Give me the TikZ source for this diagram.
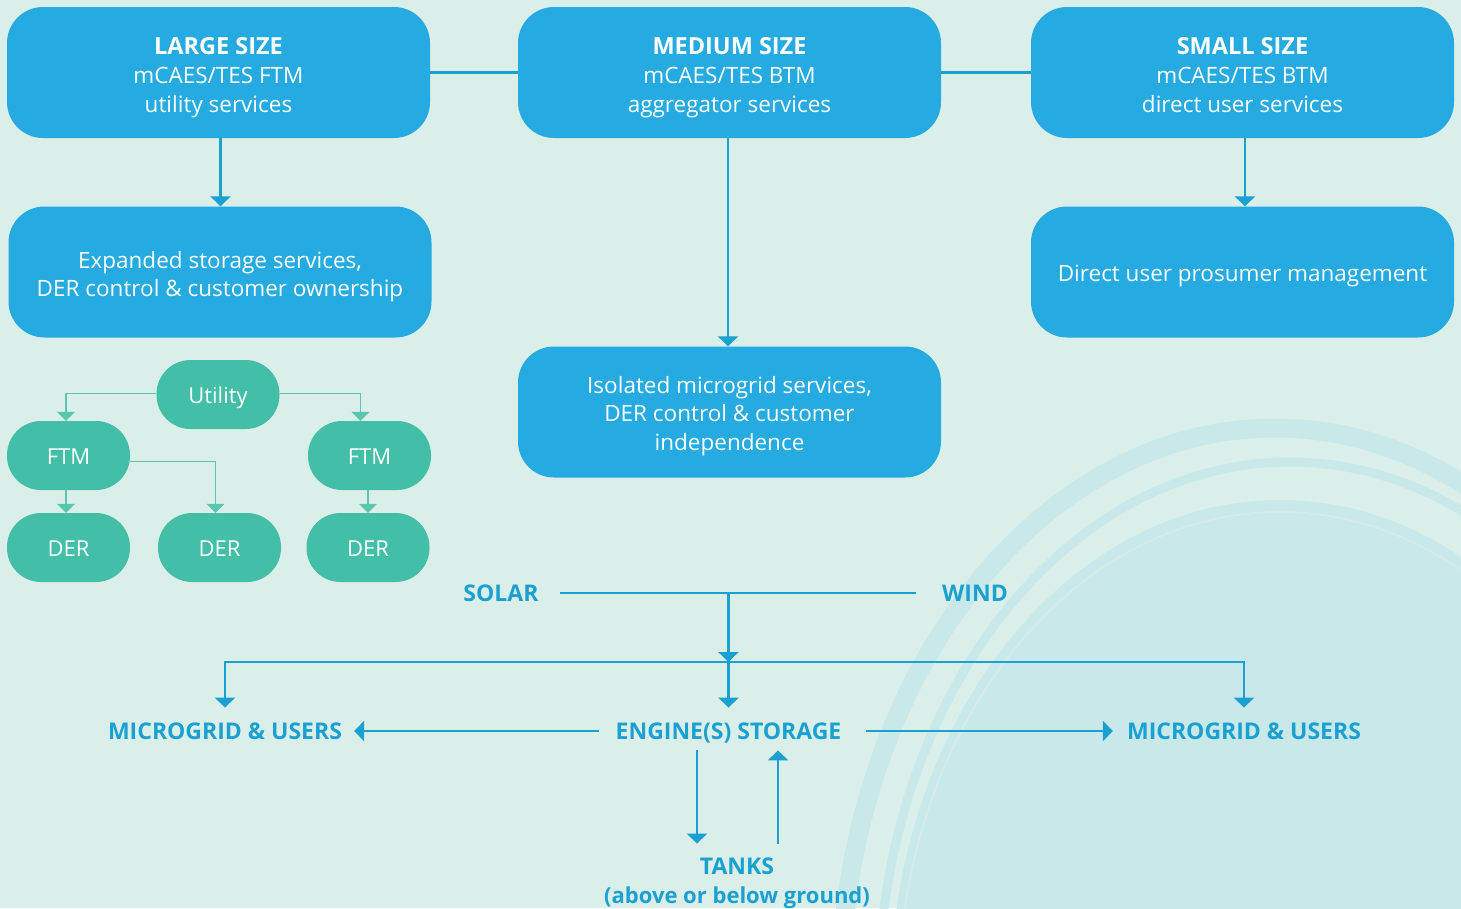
\documentclass[tikz,border=0pt]{standalone}
\usepackage{fontspec}
\setmainfont{Open Sans}
\usetikzlibrary{arrows.meta}
\definecolor{bg}{HTML}{DAEFEA}
\definecolor{tint}{HTML}{C8E8E9}
\definecolor{boxblue}{HTML}{25AAE1}
\definecolor{lblblue}{HTML}{1BA0D2}
\definecolor{pillgreen}{HTML}{43BFA8}
\definecolor{linegreen}{HTML}{5AC6B0}
\newcommand{\tops}[1]{\rule{0pt}{#1}}
\newcommand{\bots}[1]{\rule[-#1]{0pt}{#1}}
\newcommand{\hdr}[1]{{\bfseries\fontsize{23.5}{29}\selectfont #1}}
\tikzset{
  bluebox/.style={draw=none, fill=boxblue, rounded corners=36pt, minimum width=423pt, minimum height=131pt, text=white, align=center, font=\fontsize{22.5}{29}\selectfont, inner sep=0pt},
  pill/.style={draw=none, fill=pillgreen, rounded corners=34pt, minimum width=123pt, minimum height=69pt, text=white, font=\fontsize{22}{26}\selectfont, inner sep=0pt},
  lbl/.style={text=lblblue, font=\bfseries\fontsize{23}{29}\selectfont, inner sep=0pt, text height=16.4pt, text depth=0pt},
  bline/.style={draw=lblblue, line width=2.8pt},
  barrow/.style={bline, -{Triangle[width=20pt,length=10pt]}},
  gline/.style={draw=linegreen, line width=1.4pt},
  garrow/.style={gline, -{Triangle[width=18pt,length=9pt]}}
}
\begin{document}
\begin{tikzpicture}[x=1pt,y=-1pt]
\fill[bg] (0,0) rectangle (1461,908);
\useasboundingbox (0,0) rectangle (1461,908);
% decorative swirl
\begin{scope}
\clip (0,0) rectangle (1461,908);
\fill[tint] (1280,1000) ellipse [x radius=390, y radius=500];
\draw[tint, line width=19pt] (1275,1000) ellipse [x radius=435, y radius=572];
\draw[tint, line width=9pt] (1290,1000) ellipse [x radius=412, y radius=538];
\draw[bg!60!tint, line width=2pt] (1280,1000) ellipse [x radius=382, y radius=488];
\end{scope}
% blue boxes
\node[bluebox] (large) at (218.5,72.5) {\tops{27pt}\hdr{LARGE SIZE}\\mCAES/TES FTM\\utility services\bots{6pt}};
\node[bluebox] (medium) at (729.5,72.5) {\tops{27pt}\hdr{MEDIUM SIZE}\\mCAES/TES BTM\\aggregator services\bots{6pt}};
\node[bluebox] (small) at (1242.5,72.5) {\tops{27pt}\hdr{SMALL SIZE}\\mCAES/TES BTM\\direct user services\bots{6pt}};
\node[bluebox, font=\fontsize{22.5}{28}\selectfont] (lchild) at (220,272) {\tops{26pt}Expanded storage services,\\DER control \& customer ownership\bots{6pt}};
\node[bluebox, font=\fontsize{22.5}{28}\selectfont] (schild) at (1242.5,272) {\tops{25pt}Direct user prosumer management\bots{6pt}};
\node[bluebox, font=\fontsize{22.5}{28.5}\selectfont] (mchild) at (729.5,412) {\tops{25pt}Isolated microgrid services,\\DER control \& customer\\independence\bots{6pt}};
\draw[bline] (large.east) -- (medium.west);
\draw[bline] (medium.east) -- (small.west);
\draw[barrow] ([xshift=2pt]large.south) -- ([xshift=2pt]large.south |- lchild.north);
\draw[barrow] ([xshift=-1.5pt]medium.south) -- ([xshift=-1.5pt]medium.south |- mchild.north);
\draw[barrow] ([xshift=2.5pt]small.south) -- ([xshift=2.5pt]small.south |- schild.north);
% green tree
\node[pill] (util) at (218,394.5) {\tops{23pt}Utility\bots{6pt}};
\node[pill] (ftmL) at (68.5,455.5) {\tops{23pt}FTM\bots{6pt}};
\node[pill] (ftmR) at (369.5,455.5) {\tops{23pt}FTM\bots{6pt}};
\node[pill] (der1) at (68.5,547.5) {\tops{23pt}DER\bots{6pt}};
\node[pill] (der2) at (219.5,547.5) {\tops{23pt}DER\bots{6pt}};
\node[pill] (der3) at (368,547.5) {\tops{23pt}DER\bots{6pt}};
\draw[garrow] ([yshift=1pt]util.west) -| ([xshift=-2.5pt]ftmL.north);
\draw[garrow] ([yshift=1pt]util.east) -| ([xshift=-9pt]ftmR.north);
\draw[garrow] ([xshift=-2.5pt]ftmL.south) -- ([xshift=-2.5pt]ftmL.south |- der1.north);
\draw[garrow] ([yshift=-6pt]ftmL.east) -| ([xshift=-4pt]der2.north);
\draw[garrow] ([xshift=-1.5pt]ftmR.south) -- ([xshift=-1.5pt]ftmR.south |- der3.north);
% bottom flow
\node[lbl] (solar) at (501,593) {SOLAR};
\node[lbl] (wind) at (975,593) {WIND};
\node[lbl] (engine) at (728.5,731) {ENGINE(S) STORAGE};
\node[lbl] (mgL) at (225,731) {MICROGRID \& USERS};
\node[lbl] (mgR) at (1244,731) {MICROGRID \& USERS};
\node[lbl] (tanks) at (737,866) {TANKS};
\node[lbl, font=\bfseries\fontsize{22}{29}\selectfont] (ground) at (737,895) {(above or below ground)};
\coordinate (j1) at (engine |- solar);
\coordinate (bus) at (728.5,662);
\draw[bline, shorten <=21pt, shorten >=26pt] (solar.east) -- (wind.west);
\draw[barrow] (j1) -- (bus);
\draw[barrow, shorten >=15pt] (bus) -| (mgL.north);
\draw[barrow, shorten >=15pt] (bus) -| (mgR.north);
\draw[barrow, shorten >=15pt] (bus) -- (engine.north);
\draw[barrow, shorten <=16pt, shorten >=12pt] (engine.west) -- (mgL.east);
\draw[barrow, shorten <=24pt, shorten >=14pt] (engine.east) -- (mgR.west);
\draw[barrow, shorten <=11pt, shorten >=14pt] ([xshift=-31.5pt]engine.south) -- ([xshift=-40pt]tanks.north);
\draw[barrow, shorten <=14pt, shorten >=11pt] ([xshift=41pt]tanks.north) -- ([xshift=49.5pt]engine.south);
\end{tikzpicture}
\end{document}
